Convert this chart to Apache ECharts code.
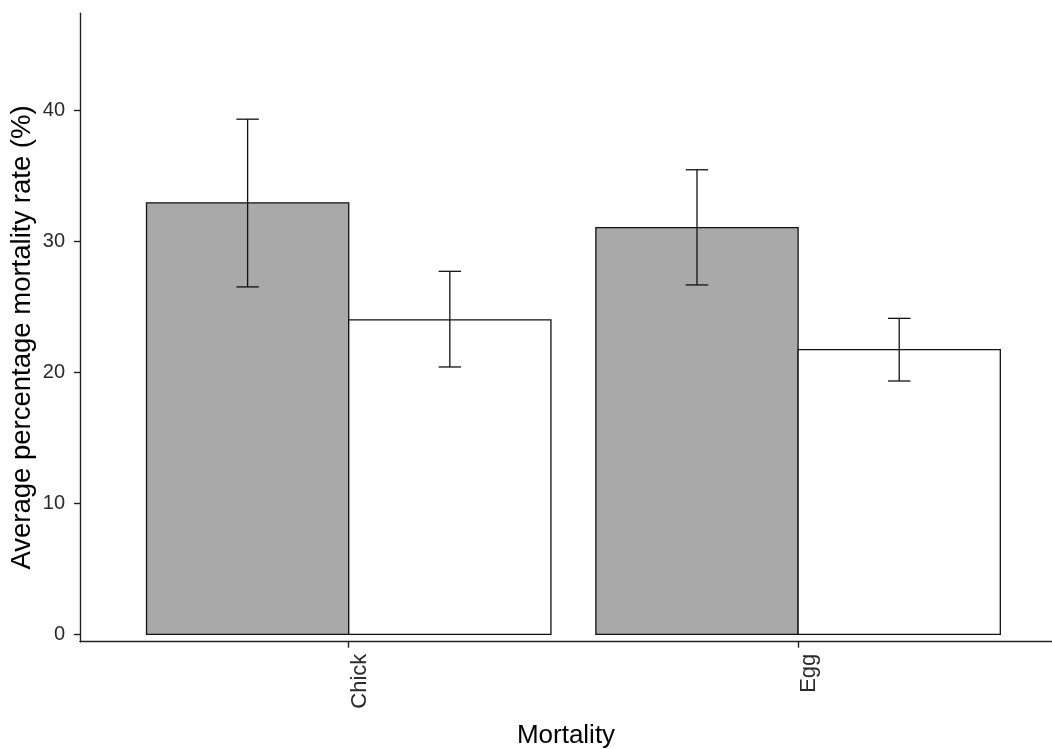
<!DOCTYPE html>
<html>
<head>
<meta charset="utf-8">
<script src="https://cdn.jsdelivr.net/npm/echarts@6/dist/echarts.min.js"></script>
<style>
  html, body { margin: 0; padding: 0; background: #fff; }
  #chart { width: 1052px; height: 749px; }
</style>
</head>
<body>
<div id="chart"></div>
<script>
// Categories along the x axis
const categories = ['Chick', 'Egg'];
// Mean mortality (%) for the two groups in each category
const darkMeans = [32.93, 31.04];
const lightMeans = [23.99, 21.72];
// Error bar bounds (%)
const darkLow = [26.51, 26.66];
const darkHigh = [39.31, 35.45];
const lightLow = [20.40, 19.33];
const lightHigh = [27.70, 24.11];
// Y axis tick labels
const yTicks = [0, 10, 20, 30, 40];

// Category positions on the value x axis are 1, 2, ...
const catPos = categories.map((c, i) => i + 1);
const DODGE = 0.9;
const BAR_W = DODGE / 2;
const CAP_HALF = 0.025;

function barData(means, low, high, slot) {
  return means.map((m, i) => [catPos[i], m, low[i], high[i], slot]);
}

function renderBar(fill) {
  return function (params, api) {
    const x = api.value(0);
    const slot = api.value(4);
    const left = x - DODGE / 2 + slot * BAR_W;
    const p0 = api.coord([left, api.value(1)]);
    const p1 = api.coord([left + BAR_W, 0]);
    return {
      type: 'rect',
      shape: { x: p0[0], y: p0[1], width: p1[0] - p0[0], height: p1[1] - p0[1] },
      style: { fill: fill, stroke: '#111', lineWidth: 1.3 }
    };
  };
}

function renderErr(params, api) {
  const x = api.value(0);
  const slot = api.value(4);
  const cx = x - DODGE / 2 + slot * BAR_W + BAR_W / 2;
  const lo = api.coord([cx, api.value(2)]);
  const hi = api.coord([cx, api.value(3)]);
  const capL = api.coord([cx - CAP_HALF, 0])[0];
  const capR = api.coord([cx + CAP_HALF, 0])[0];
  const st = { stroke: '#111', lineWidth: 1.3 };
  return {
    type: 'group',
    children: [
      { type: 'line', shape: { x1: lo[0], y1: lo[1], x2: hi[0], y2: hi[1] }, style: st },
      { type: 'line', shape: { x1: capL, y1: hi[1], x2: capR, y2: hi[1] }, style: st },
      { type: 'line', shape: { x1: capL, y1: lo[1], x2: capR, y2: lo[1] }, style: st }
    ]
  };
}

const chart = echarts.init(document.getElementById('chart'), null, { renderer: 'canvas' });

const axisLineStyle = { color: '#222', width: 1.4 };

chart.setOption({
  animation: false,
  backgroundColor: '#fff',
  grid: {
    left: 80, right: 0, top: 13.3, bottom: 107.3,
    containLabel: false,
    outerBoundsMode: 'none'
  },
  xAxis: {
    type: 'value',
    min: 0.402,
    max: 2.565,
    name: 'Mortality',
    nameLocation: 'middle',
    nameGap: 81,
    nameMoveOverlap: false,
    nameTextStyle: { color: '#000', fontSize: 26, fontFamily: 'Liberation Sans' },
    axisLine: { show: true, onZero: false, lineStyle: axisLineStyle },
    axisTick: { show: true, customValues: catPos, length: 6, lineStyle: axisLineStyle },
    axisLabel: {
      customValues: catPos,
      formatter: v => categories[Math.round(v) - 1],
      rotate: 90,
      verticalAlign: 'top',
      margin: 12,
      color: '#2a2a2a',
      fontSize: 22,
      fontFamily: 'Liberation Sans'
    },
    splitLine: { show: false }
  },
  yAxis: {
    type: 'value',
    min: -0.565,
    max: 47.39,
    name: 'Average percentage mortality rate (%)',
    nameLocation: 'middle',
    nameGap: 44,
    nameMoveOverlap: false,
    nameRotate: 90,
    nameTextStyle: {
      color: '#000',
      fontSize: 27.5,
      fontFamily: 'Liberation Sans',
      padding: [0, 20, 0, 0]
    },
    axisLine: { show: true, onZero: false, lineStyle: axisLineStyle },
    axisTick: { show: true, customValues: yTicks, length: 6, lineStyle: axisLineStyle },
    axisLabel: {
      customValues: yTicks,
      margin: 15,
      color: '#2a2a2a',
      fontSize: 20,
      fontFamily: 'Liberation Sans'
    },
    splitLine: { show: false }
  },
  series: [
    {
      name: 'dark',
      type: 'custom',
      renderItem: renderBar('#A9A9A9'),
      data: barData(darkMeans, darkLow, darkHigh, 0),
      z: 2
    },
    {
      name: 'light',
      type: 'custom',
      renderItem: renderBar('#FFFFFF'),
      data: barData(lightMeans, lightLow, lightHigh, 1),
      z: 2
    },
    {
      name: 'error',
      type: 'custom',
      renderItem: renderErr,
      data: barData(darkMeans, darkLow, darkHigh, 0).concat(barData(lightMeans, lightLow, lightHigh, 1)),
      z: 3
    }
  ]
});
</script>
</body>
</html>
